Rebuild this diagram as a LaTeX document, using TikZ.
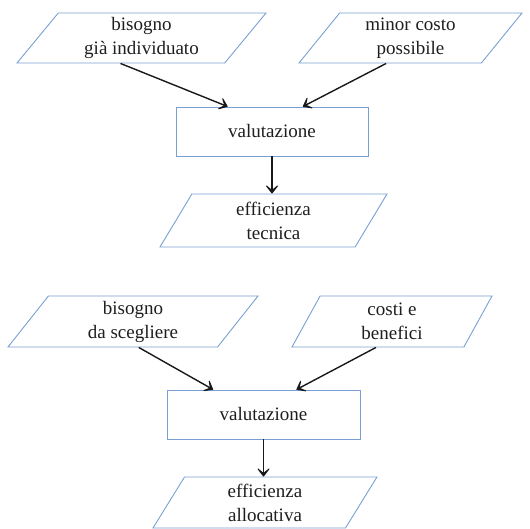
\documentclass[tikz,border=0pt]{standalone}
\usepackage{fontspec}
\setmainfont{Liberation Serif}
\usetikzlibrary{shapes.geometric,arrows.meta,calc}
\definecolor{edgeblue}{RGB}{120,160,210}
\definecolor{inktext}{RGB}{30,30,30}
\tikzset{
  lbl/.style={font=\fontsize{19}{24}\selectfont, text=inktext, align=center},
  para/.style={lbl, shape=trapezium, draw=edgeblue, line width=0.9pt,
    trapezium stretches body=true, inner sep=0pt},
  procbox/.style={lbl, draw=edgeblue, line width=0.9pt, inner sep=0pt},
  flow/.style={draw=black!90, line width=1.4pt,
    -{Stealth[length=11pt,width=17pt,inset=7pt,round]}}
}
\begin{document}
\begin{tikzpicture}[x=1pt,y=-1pt]
\useasboundingbox (0,0) rectangle (530,529);

% first chain: technical efficiency
\node[para, trapezium left angle=45, trapezium right angle=135,
      minimum width=249pt, minimum height=50pt] (need1) at (141.5,38)
      {bisogno\\già individuato};
\node[para, trapezium left angle=45, trapezium right angle=135,
      minimum width=223pt, minimum height=50pt] (cost1) at (410.5,38)
      {minor costo\\possibile};
\node[procbox, minimum width=192pt, minimum height=49pt] (eval1) at (272,131.5)
      {valutazione};
\node[para, trapezium left angle=49.7, trapezium right angle=130.3,
      minimum width=227pt, minimum height=53pt] (tech) at (273.5,220.5)
      {efficienza\\tecnica};

\draw[flow] ($(need1.bottom left corner)!0.5!(need1.bottom right corner)$)
  -- ($(eval1.north west)!0.27!(eval1.north east)$);
\draw[flow] ($(cost1.bottom left corner)!0.48!(cost1.bottom right corner)$)
  -- ($(eval1.north west)!0.66!(eval1.north east)$);
\draw[flow] (eval1.south) -- (eval1.south |- tech.north);

% second chain: allocative efficiency
\node[para, trapezium left angle=45.6, trapezium right angle=134.4,
      minimum width=250pt, minimum height=51pt] (need2) at (133,321.5)
      {bisogno\\da scegliere};
\node[para, trapezium left angle=52.6, trapezium right angle=127.4,
      minimum width=200pt, minimum height=51pt] (cost2) at (392,321.5)
      {costi e\\benefici};
\node[procbox, minimum width=193pt, minimum height=49pt] (eval2) at (263.5,414.5)
      {valutazione};
\node[para, trapezium left angle=50, trapezium right angle=130,
      minimum width=224pt, minimum height=51pt] (alloc) at (265,502.5)
      {efficienza\\allocativa};

\draw[flow] ($(need2.bottom left corner)!0.625!(need2.bottom right corner)$)
  -- ($(eval2.north west)!0.24!(eval2.north east)$);
\draw[flow] ($(cost2.bottom left corner)!0.49!(cost2.bottom right corner)$)
  -- ($(eval2.north west)!0.67!(eval2.north east)$);
\draw[flow] (eval2.south) -- (eval2.south |- alloc.north);
\end{tikzpicture}
\end{document}
